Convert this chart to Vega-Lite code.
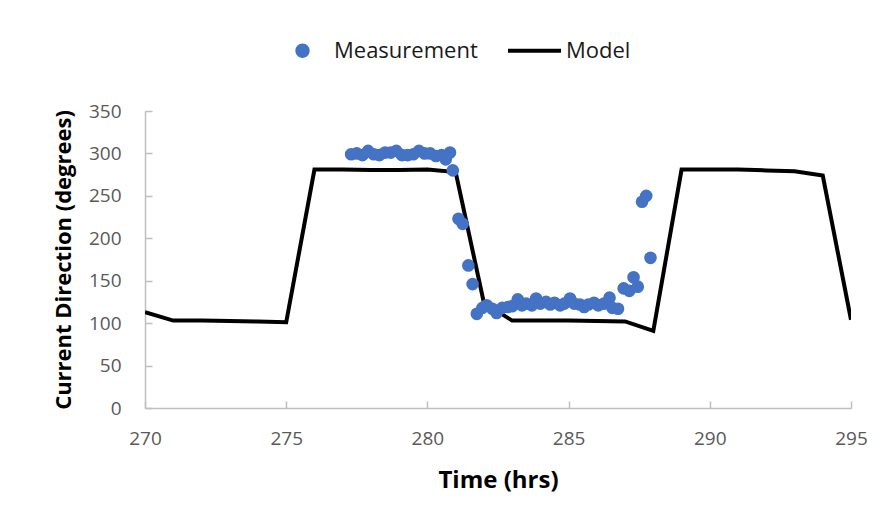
{
  "$schema": "https://vega.github.io/schema/vega-lite/v6.json",
  "width": 706,
  "height": 297,
  "autosize": {"type": "none"},
  "padding": {"left": 145, "top": 111, "right": 34, "bottom": 113},
  "background": "white",
  "config": {
    "view": {"stroke": null},
    "font": "Open Sans",
    "axis": {
      "grid": false,
      "domainColor": "#bfbfbf",
      "domainWidth": 1.5,
      "tickColor": "#bfbfbf",
      "tickWidth": 1.5,
      "tickSize": -7,
      "labelFlush": false,
      "labelFont": "Open Sans",
      "labelFontSize": 19,
      "labelColor": "#595959",
      "titleFont": "Open Sans",
      "titleFontWeight": "bold",
      "titleFontSize": 22,
      "titleColor": "#000000"
    }
  },
  "datasets": {
    "meas": [
      {"t": 277.3, "dir": 299}, {"t": 277.5, "dir": 300}, {"t": 277.7, "dir": 298}, {"t": 277.9, "dir": 303},
      {"t": 278.1, "dir": 299}, {"t": 278.3, "dir": 298}, {"t": 278.5, "dir": 301}, {"t": 278.7, "dir": 301},
      {"t": 278.9, "dir": 303}, {"t": 279.1, "dir": 298}, {"t": 279.3, "dir": 298}, {"t": 279.5, "dir": 299},
      {"t": 279.7, "dir": 303}, {"t": 279.9, "dir": 300}, {"t": 280.1, "dir": 300}, {"t": 280.3, "dir": 297},
      {"t": 280.5, "dir": 298}, {"t": 280.65, "dir": 293}, {"t": 280.8, "dir": 301}, {"t": 280.9, "dir": 280},
      {"t": 281.1, "dir": 223}, {"t": 281.25, "dir": 217}, {"t": 281.45, "dir": 168}, {"t": 281.6, "dir": 146},
      {"t": 281.75, "dir": 111}, {"t": 281.95, "dir": 118}, {"t": 282.1, "dir": 121}, {"t": 282.3, "dir": 117},
      {"t": 282.45, "dir": 112}, {"t": 282.65, "dir": 118}, {"t": 282.85, "dir": 119}, {"t": 283.0, "dir": 120},
      {"t": 283.2, "dir": 128}, {"t": 283.35, "dir": 121}, {"t": 283.5, "dir": 123}, {"t": 283.7, "dir": 121},
      {"t": 283.85, "dir": 129}, {"t": 284.0, "dir": 123}, {"t": 284.2, "dir": 125}, {"t": 284.35, "dir": 122},
      {"t": 284.5, "dir": 124}, {"t": 284.7, "dir": 121}, {"t": 284.85, "dir": 123}, {"t": 285.05, "dir": 129},
      {"t": 285.2, "dir": 123}, {"t": 285.4, "dir": 122}, {"t": 285.55, "dir": 119}, {"t": 285.7, "dir": 122},
      {"t": 285.9, "dir": 124}, {"t": 286.05, "dir": 121}, {"t": 286.25, "dir": 123}, {"t": 286.45, "dir": 130},
      {"t": 286.55, "dir": 118}, {"t": 286.75, "dir": 117}, {"t": 286.95, "dir": 141}, {"t": 287.15, "dir": 138},
      {"t": 287.3, "dir": 154}, {"t": 287.45, "dir": 143}, {"t": 287.6, "dir": 243}, {"t": 287.75, "dir": 250},
      {"t": 287.9, "dir": 177}
    ],
    "model": [
      {"t": 270, "dir": 113}, {"t": 271, "dir": 103}, {"t": 272, "dir": 103}, {"t": 273, "dir": 102.5},
      {"t": 274, "dir": 102}, {"t": 275, "dir": 101}, {"t": 276, "dir": 281}, {"t": 277, "dir": 281},
      {"t": 278, "dir": 280.5}, {"t": 279, "dir": 280.5}, {"t": 280, "dir": 281}, {"t": 281, "dir": 278},
      {"t": 282, "dir": 124}, {"t": 283, "dir": 103}, {"t": 284, "dir": 103}, {"t": 285, "dir": 103},
      {"t": 286, "dir": 102.5}, {"t": 287, "dir": 102}, {"t": 288, "dir": 91}, {"t": 289, "dir": 281},
      {"t": 290, "dir": 281}, {"t": 291, "dir": 281}, {"t": 292, "dir": 280}, {"t": 293, "dir": 279},
      {"t": 294, "dir": 274}, {"t": 295, "dir": 104}
    ]
  },
  "encoding": {
    "x": {
      "field": "t", "type": "quantitative",
      "scale": {"domain": [270, 295], "nice": false, "zero": false},
      "axis": {"values": [270, 275, 280, 285, 290, 295], "title": "Time (hrs)", "labelPadding": 28, "titlePadding": 20, "titleFontSize": 24}
    },
    "y": {
      "field": "dir", "type": "quantitative",
      "scale": {"domain": [0, 350], "nice": false},
      "axis": {"values": [0, 50, 100, 150, 200, 250, 300, 350], "title": "Current Direction (degrees)", "labelPadding": 31, "titlePadding": 13}
    }
  },
  "layer": [
    {
      "data": {"name": "model"},
      "transform": [{"calculate": "'Model'", "as": "series"}],
      "mark": {"type": "line", "strokeWidth": 4, "clip": true},
      "encoding": {
        "color": {
          "field": "series", "type": "nominal",
          "scale": {"domain": ["Measurement", "Model"], "range": ["#4472C4", "#000000"]},
          "legend": {
            "title": null,
            "orient": "none",
            "direction": "horizontal",
            "legendX": 131,
            "legendY": -87,
            "symbolSize": 2809,
            "labelFontSize": 22,
            "labelFont": "Open Sans",
            "labelColor": "#1a1a1a",
            "labelOffset": 5,
            "columnPadding": 30,
            "encode": {
              "symbols": {
                "update": {
                  "size": {"value": 2809},
                  "strokeWidth": {"value": 0},
                  "shape": {"signal": "datum.value === 'Model' ? 'M -1,-0.075 L 1,-0.075 L 1,0.075 L -1,0.075 Z' : 'M -0.27,0 A 0.27,0.27 0 1,0 0.27,0 A 0.27,0.27 0 1,0 -0.27,0 Z'"},
                  "fill": {"signal": "datum.value === 'Model' ? '#000000' : '#4472C4'"},
                  "opacity": {"value": 1},
                  "fillOpacity": {"value": 1}
                }
              }
            }
          }
        }
      }
    },
    {
      "data": {"name": "meas"},
      "transform": [{"calculate": "'Measurement'", "as": "series"}],
      "mark": {"type": "point", "filled": true, "size": 160, "opacity": 1},
      "encoding": {
        "color": {"field": "series", "type": "nominal"}
      }
    }
  ]
}
